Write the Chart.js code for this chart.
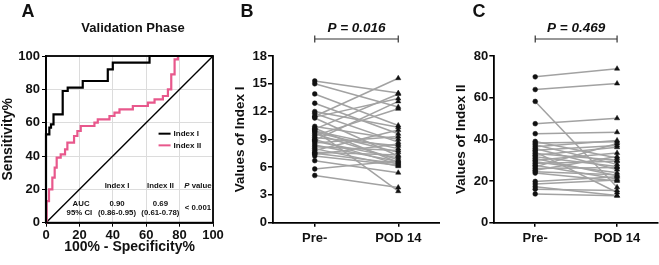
<!DOCTYPE html>
<html lang="en">
<head>
<meta charset="utf-8">
<title>Validation Phase</title>
<script src="https://cdn.jsdelivr.net/npm/chart.js"></script>
<style>
  body { margin: 0; background: #fff; }
  #wrap { position: relative; width: 659px; height: 265px; overflow: hidden; }
  canvas { position: absolute; top: 0; }
  #chartA { left: 0; }
  #chartB { left: 220px; }
  #chartC { left: 440px; }
</style>
</head>
<body>
<div id="wrap">
  <canvas id="chartA" width="232" height="265"></canvas>
  <canvas id="chartB" width="220" height="265"></canvas>
  <canvas id="chartC" width="219" height="265"></canvas>
</div>

<script>
// ---- data ----
// ROC curves (x = 100% - specificity, y = sensitivity), points where the step lands
var index1Fpr = [0, 0, 2, 3, 4.5, 10, 13, 22, 37, 40, 62, 100];
var index1Tpr = [0, 53, 57, 59, 65, 79, 81, 85, 92, 96, 100, 100];
var index2Fpr = [0, 0.4, 1.8, 3.8, 5.2, 6.4, 8.8, 11.4, 12.8, 16.8, 18.8, 20.8, 29, 31, 38, 41, 44, 52, 61, 65, 70, 73, 75, 77, 79, 100];
var index2Tpr = [0, 13, 20, 27, 33, 39, 41, 44, 48, 52, 55, 58, 60, 62, 64, 66, 68, 70, 72, 74, 76, 80, 89, 98, 100, 100];
var refX = [0, 100];
var refY = [0, 100];

var timeLabels = ['Pre-', 'POD 14'];

// Index I, paired values
var index1Pre  = [15.3, 15.0, 13.9, 12.9, 12.0, 11.8, 11.5, 11.4, 11.3, 10.4, 10.2, 10.1, 10.0, 9.9, 9.8, 9.6, 9.4, 9.2, 9.0, 8.9, 8.8, 8.6, 8.4, 8.2, 8.0, 7.8, 7.6, 7.5, 7.4, 7.2, 6.7, 5.8, 5.1];
var index1Post = [14.0, 12.5, 10.5, 9.6, 10.3, 8.7, 15.6, 13.4, 7.2, 9.0, 6.5, 13.9, 3.4, 8.0, 7.6, 6.8, 12.3, 8.3, 6.3, 13.1, 7.0, 9.3, 6.6, 7.8, 6.1, 10.0, 7.3, 6.4, 8.5, 6.2, 5.4, 6.7, 3.8];

// Index II, paired values
var index2Pre  = [70.0, 63.9, 58.2, 47.5, 42.7, 39.0, 38.2, 37.4, 36.5, 35.6, 34.8, 34.0, 33.2, 32.4, 31.6, 30.8, 30.0, 29.2, 28.4, 27.6, 26.8, 26.0, 25.2, 24.4, 23.8, 19.8, 18.6, 17.3, 16.1, 13.8];
var index2Post = [73.9, 66.8, 17.0, 50.1, 43.4, 31.0, 38.8, 28.0, 39.5, 25.5, 37.0, 14.5, 30.0, 36.2, 27.0, 22.5, 33.5, 24.0, 29.5, 21.0, 38.0, 26.5, 31.8, 23.0, 20.0, 22.0, 20.5, 13.0, 15.5, 12.9];

var FONT = '"Liberation Sans", Arial, sans-serif';
var PINK = '#e8588c';
var GREY = '#a2a2a2';
Chart.defaults.font.family = FONT;
Chart.defaults.color = '#111';

function xy(xs, ys) {
    return xs.map(function (v, i) { return { x: v, y: ys[i] }; });
}

// draws panel letters, titles, the ROC frame/legend/table and the P brackets
var notes = {
    id: 'notes',
    afterDraw: function (chart, args, opts) {
        var ctx = chart.ctx;
        var sx = chart.scales.x, sy = chart.scales.y;
        var a = chart.chartArea;
        ctx.save();
        ctx.textBaseline = 'middle';

        if (opts.frame) {
            ctx.strokeStyle = '#000';
            ctx.lineWidth = 1.8;
            ctx.strokeRect(a.left, a.top, a.right - a.left, a.bottom - a.top);
        }

        if (opts.legend) {
            var lg = opts.legend;
            chart.data.datasets.forEach(function (ds) {
                if (!ds.inLegend) return;
                var py = sy.getPixelForValue(ds.legendY);
                ctx.strokeStyle = ds.borderColor;
                ctx.lineWidth = 2;
                ctx.beginPath();
                ctx.moveTo(sx.getPixelForValue(lg.x0), py);
                ctx.lineTo(sx.getPixelForValue(lg.x1), py);
                ctx.stroke();
                ctx.font = lg.font;
                ctx.fillStyle = '#111';
                ctx.textAlign = 'left';
                ctx.fillText(ds.label, sx.getPixelForValue(lg.tx), py);
            });
        }

        if (opts.bracket) {
            var b = opts.bracket;
            var x0 = sx.getPixelForValue(0), x1 = sx.getPixelForValue(1);
            ctx.strokeStyle = '#333';
            ctx.lineWidth = 1.2;
            ctx.beginPath();
            ctx.moveTo(x0, b.y - 3.5); ctx.lineTo(x0, b.y + 3.5);
            ctx.moveTo(x0, b.y); ctx.lineTo(x1, b.y);
            ctx.moveTo(x1, b.y - 3.5); ctx.lineTo(x1, b.y + 3.5);
            ctx.stroke();
            ctx.font = 'italic bold 13.5px ' + FONT;
            ctx.fillStyle = '#111';
            ctx.textAlign = 'center';
            ctx.fillText(b.text, (x0 + x1) / 2, b.textY);
        }

        (opts.texts || []).forEach(function (t) {
            var px = t.data ? sx.getPixelForValue(t.x) : t.x;
            var py = t.data ? sy.getPixelForValue(t.y) : t.y;
            var parts = t.parts || [{ text: t.text, font: t.font }];
            var total = 0;
            parts.forEach(function (p) { ctx.font = p.font; total += ctx.measureText(p.text).width; });
            var cx = px - total / 2;
            ctx.fillStyle = '#111';
            ctx.textAlign = 'left';
            parts.forEach(function (p) {
                ctx.font = p.font;
                ctx.fillText(p.text, cx, py);
                cx += ctx.measureText(p.text).width;
            });
        });
        ctx.restore();
    }
};

var tickFont = { size: 13, weight: 'bold' };
var small = 'bold 7.8px ' + FONT;

// ---- panel A: ROC ----
new Chart(document.getElementById('chartA'), {
    type: 'line',
    data: {
        datasets: [
            { label: 'Index I', data: xy(index1Fpr, index1Tpr), borderColor: '#000', borderWidth: 2.2,
              stepped: true, pointRadius: 0, clip: false, inLegend: true, legendY: 53.4 },
            { label: 'Index II', data: xy(index2Fpr, index2Tpr), borderColor: PINK, borderWidth: 2.2,
              stepped: true, pointRadius: 0, clip: false, inLegend: true, legendY: 46.4 },
            { label: 'Reference', data: xy(refX, refY), borderColor: '#000', borderWidth: 1.4,
              pointRadius: 0, clip: false }
        ]
    },
    options: {
        responsive: false, animation: false, events: [],
        layout: { padding: { left: 0, right: 19, top: 56, bottom: 0 }, autoPadding: false },
        plugins: {
            legend: { display: false }, tooltip: { enabled: false },
            notes: {
                frame: true,
                legend: { x0: 67.4, x1: 74.6, tx: 76.4, font: 'bold 8px ' + FONT },
                texts: [
                    { text: 'A', x: 28, y: 12, font: 'bold 18px ' + FONT },
                    { text: 'Validation Phase', x: 133, y: 28, font: 'bold 13px ' + FONT },
                    { text: 'Index I', data: true, x: 42.5, y: 22, font: small },
                    { text: 'Index II', data: true, x: 68.5, y: 22, font: small },
                    { data: true, x: 91, y: 22, parts: [{ text: 'P', font: 'italic bold 7.8px ' + FONT }, { text: ' value', font: small }] },
                    { text: 'AUC', data: true, x: 21, y: 11.6, font: small },
                    { text: '95% CI', data: true, x: 20, y: 6, font: small },
                    { text: '0.90', data: true, x: 42.5, y: 11.6, font: small },
                    { text: '(0.86-0.95)', data: true, x: 42.5, y: 6, font: small },
                    { text: '0.69', data: true, x: 68.5, y: 11.6, font: small },
                    { text: '(0.61-0.78)', data: true, x: 68.5, y: 6, font: small },
                    { text: '< 0.001', data: true, x: 91, y: 8.8, font: small }
                ]
            }
        },
        scales: {
            x: {
                type: 'linear', min: 0, max: 100,
                ticks: { stepSize: 20, font: tickFont, padding: 1, maxRotation: 0 },
                grid: { color: '#dcdcdc', tickColor: '#000', tickLength: 4 },
                border: { color: '#000', width: 1.8 },
                title: { display: true, text: '100% - Specificity%', font: { size: 14, weight: 'bold' }, padding: { bottom: 9 } },
                afterFit: function (s) { s.height = 42.3; s.paddingLeft = 0; s.paddingRight = 0; }
            },
            y: {
                min: 0, max: 100,
                ticks: { stepSize: 20, font: tickFont, padding: 2 },
                grid: { color: '#dcdcdc', tickColor: '#000', tickLength: 4 },
                border: { color: '#000', width: 1.8 },
                title: { display: true, text: 'Sensitivity%', font: { size: 14, weight: 'bold' }, padding: { top: 0 } },
                afterFit: function (s) { s.width = 46; s.paddingTop = 0; s.paddingBottom = 0; }
            }
        }
    },
    plugins: [notes]
});

// ---- panels B and C: paired plots ----
function pairedChart(id, pre, post, yMax, step, yTitle, letter, letterX, pText, axisW, titlePad, rightPad) {
    var datasets = pre.map(function (v, i) {
        return { data: [v, post[i]], borderColor: GREY, borderWidth: 1.5, pointRadius: 0, clip: false, order: 2 };
    });
    datasets.push({ data: pre.map(function (v) { return { x: timeLabels[0], y: v }; }), showLine: false,
        pointStyle: 'circle', pointRadius: 2.4, pointBackgroundColor: '#111', pointBorderColor: '#111',
        pointBorderWidth: 0.5, clip: false, order: 1 });
    datasets.push({ data: post.map(function (v) { return { x: timeLabels[1], y: v }; }), showLine: false,
        pointStyle: 'triangle', pointRadius: 3, pointBackgroundColor: '#111', pointBorderColor: '#111',
        pointBorderWidth: 0.5, clip: false, order: 0 });

    return new Chart(document.getElementById(id), {
        type: 'line',
        data: { labels: timeLabels, datasets: datasets },
        options: {
            responsive: false, animation: false, events: [],
            layout: { padding: { left: 0, right: rightPad, top: 56, bottom: 0 }, autoPadding: false },
            plugins: {
                legend: { display: false }, tooltip: { enabled: false },
                notes: {
                    bracket: { y: 39, textY: 28, text: pText },
                    texts: [{ text: letter, x: letterX, y: 12, font: 'bold 18px ' + FONT }]
                }
            },
            scales: {
                x: {
                    type: 'category', offset: true,
                    ticks: { font: { size: 13, weight: 'bold' }, padding: 4, maxRotation: 0 },
                    grid: { drawOnChartArea: false, color: '#000', tickLength: 4, lineWidth: 1.5 },
                    border: { color: '#000', width: 1.8 },
                    afterFit: function (s) { s.height = 42.3; s.paddingLeft = 0; s.paddingRight = 0; }
                },
                y: {
                    min: 0, max: yMax,
                    ticks: { stepSize: step, font: tickFont, padding: 1 },
                    grid: { drawOnChartArea: false, color: '#000', tickLength: 5, lineWidth: 1.5 },
                    border: { color: '#000', width: 1.8 },
                    title: { display: true, text: yTitle, font: { size: 13.5, weight: 'bold' }, padding: { top: titlePad } },
                    afterFit: function (s) { s.width = axisW; s.paddingTop = 0; s.paddingBottom = 0; }
                }
            }
        },
        plugins: [notes]
    });
}

pairedChart('chartB', index1Pre, index1Post, 18, 3, 'Values of Index I', 'B', 27, 'P = 0.016', 53, 12, 0);
pairedChart('chartC', index2Pre, index2Post, 80, 20, 'Values of Index II', 'C', 39, 'P = 0.469', 54.3, 13.5, 1);
</script>
</body>
</html>
